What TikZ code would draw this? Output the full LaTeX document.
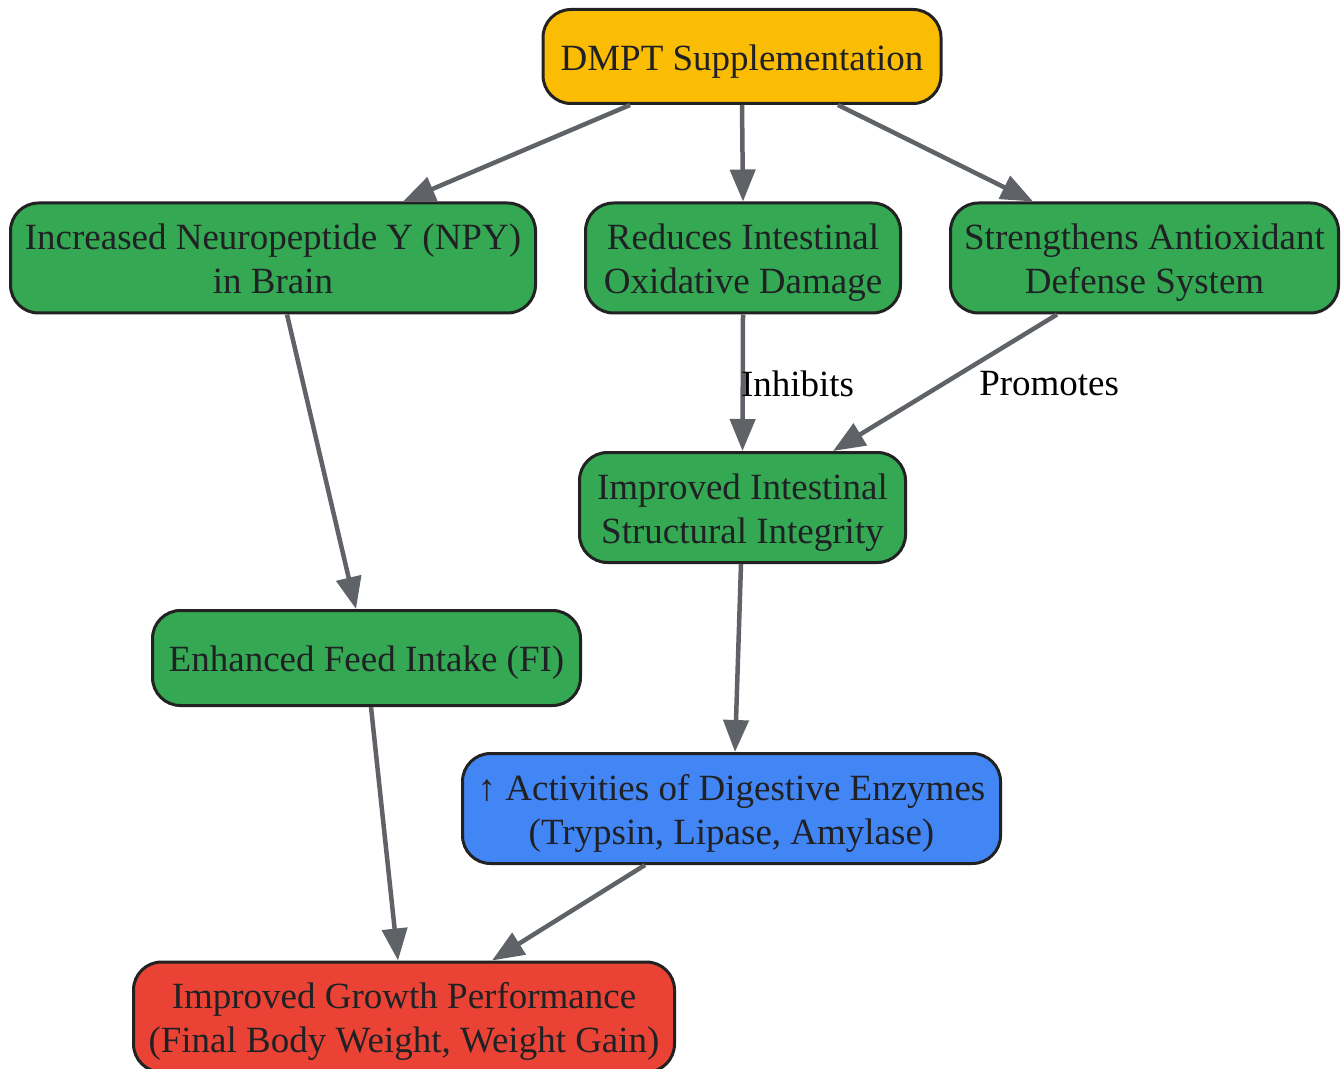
\documentclass[tikz,border=0pt]{standalone}
\usepackage{fontspec}
\setmainfont{Liberation Serif}
\usetikzlibrary{arrows.meta,positioning}
\definecolor{dmptyellow}{HTML}{FBBC04}
\definecolor{stepgreen}{HTML}{34A853}
\definecolor{enzblue}{HTML}{4285F4}
\definecolor{growred}{HTML}{EA4335}
\definecolor{boxline}{HTML}{222222}
\definecolor{boxtext}{HTML}{202124}
\definecolor{flowgray}{HTML}{5F6368}
\newcommand{\boxfont}{\fontsize{18.5pt}{22pt}\selectfont}

\begin{document}
\begin{tikzpicture}[x=0.5pt, y=-0.5pt,
  box/.style={draw=boxline, line width=1.5pt, rounded corners=14pt, align=flush center,
    text=boxtext, inner sep=0pt, font=\boxfont,
    execute at begin node={\rule{0pt}{18.75pt}},
    execute at end node={\rule[-5pt]{0pt}{0pt}}},
  flow/.style={draw=flowgray, line width=2.25pt, -{Triangle[length=16pt,width=12.5pt]}},
  lbl/.style={inner sep=0pt, font=\boxfont, text=black}]
\useasboundingbox[fill=white] (0,0) rectangle (1342,1069);
\begin{scope}[minimum height=55pt]
\node[box, fill=dmptyellow, text width=199pt, minimum height=47pt] (dmpt) at (742,56.5) {DMPT Supplementation}; %%
\node[box, fill=stepgreen, text width=262.5pt] (npy) at (273,258) {Increased Neuropeptide Y (NPY)\\in Brain}; %%
\node[box, fill=stepgreen, text width=157.5pt] (oxid) at (743,258) {Reduces Intestinal\\Oxidative Damage}; %%
\node[box, fill=stepgreen, text width=194pt] (antiox) at (1144.5,258) {Strengthens Antioxidant\\Defense System}; %%
\node[box, fill=stepgreen, text width=163pt] (integ) at (742.5,507.5) {Improved Intestinal\\Structural Integrity}; %%
\node[box, fill=stepgreen, text width=214pt, minimum height=47.5pt] (feed) at (366.5,658) {Enhanced Feed Intake (FI)}; %%
\node[box, fill=enzblue, text width=269pt] (enz) at (731.5,808.5) {↑ Activities of Digestive Enzymes\\(Trypsin, Lipase, Amylase)}; %%
\node[box, fill=growred, text width=270.5pt] (growth) at (404,1017) {Improved Growth Performance\\(Final Body Weight, Weight Gain)};
\end{scope}
\draw[flow] ([xshift=-56pt]dmpt.south) -- ([xshift=65pt]npy.north); %%
\draw[flow] (dmpt.south) -- (oxid.north); %%
\draw[flow] ([xshift=48pt]dmpt.south) -- ([xshift=-55.75pt]antiox.north); %%
\draw[flow] ([xshift=7pt]npy.south) -- ([xshift=-5.25pt]feed.north); %%
\draw[flow] (oxid.south) -- (integ.north) node[midway, lbl, anchor=west, xshift=-2pt, yshift=-0.5pt] {Inhibits}; %%
\draw[flow] ([xshift=-43.75pt]antiox.south) -- ([xshift=45.25pt]integ.north) node[midway, lbl, right=16pt, yshift=-0.5pt] {Promotes}; %%
\draw[flow] ([xshift=-0.75pt]integ.south) -- ([xshift=1.75pt]enz.north); %%
\draw[flow] ([xshift=2.25pt]feed.south) -- ([xshift=-3pt]growth.north); %%
\draw[flow] ([xshift=-43.25pt]enz.south) -- ([xshift=44pt]growth.north); %%
\end{tikzpicture}
\end{document}
